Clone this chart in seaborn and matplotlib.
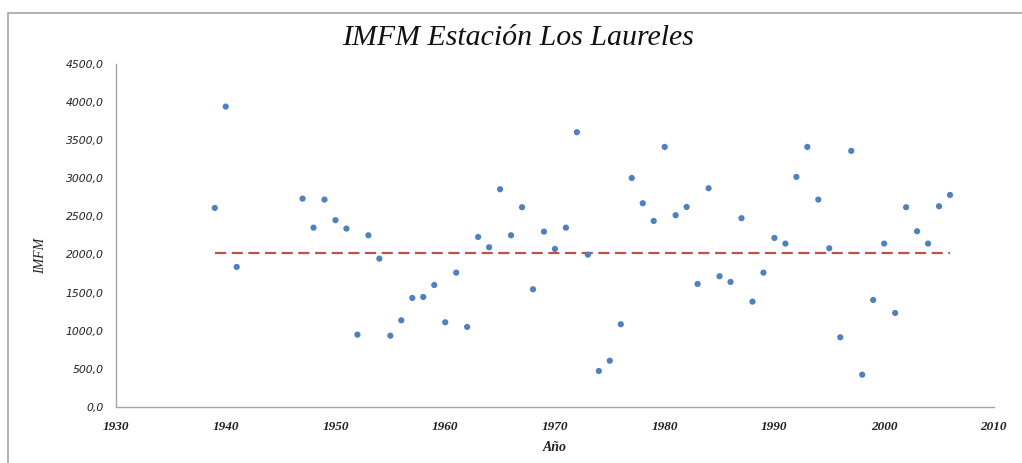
import matplotlib
matplotlib.use('Agg')
import matplotlib.pyplot as plt
import matplotlib.ticker as ticker
from matplotlib.patches import Rectangle
import seaborn as sns
import pandas as pd

# ─────────────────────────────────────────────
# DATA
# ─────────────────────────────────────────────
years = [1939, 1940, 1941, 1947, 1948, 1949, 1950, 1951, 1952, 1953,
         1954, 1955, 1956, 1957, 1958, 1959, 1960, 1961, 1962, 1963,
         1964, 1965, 1966, 1967, 1968, 1969, 1970, 1971, 1972, 1973,
         1974, 1975, 1976, 1977, 1978, 1979, 1980, 1981, 1982, 1983,
         1984, 1985, 1986, 1987, 1988, 1989, 1990, 1991, 1992, 1993,
         1994, 1995, 1996, 1997, 1998, 1999, 2000, 2001, 2002, 2003,
         2004, 2005, 2006]
imfm = [2611, 3940, 1837, 2733, 2352, 2720, 2450, 2340, 949, 2252,
        1946, 935, 1137, 1430, 1443, 1600, 1111, 1762, 1050, 2230,
        2095, 2856, 2252, 2620, 1544, 2300, 2073, 2352, 3604, 1998,
        472, 607, 1085, 3004, 2672, 2440, 3411, 2515, 2624, 1614,
        2869, 1715, 1640, 2476, 1382, 1762, 2217, 2143, 3018, 3411,
        2720, 2082, 914, 3359, 424, 1404, 2143, 1233, 2620, 2305,
        2143, 2633, 2781]
mean_years = [1939, 2006]
mean_value = [2016, 2016]

title = 'IMFM Estación Los Laureles'
x_label = 'Año'
y_label = 'IMFM'

df = pd.DataFrame({'year': years, 'imfm': imfm})

# ─────────────────────────────────────────────
# FIGURE
# ─────────────────────────────────────────────
sns.set_style('white')
fig = plt.figure(figsize=(10.22, 4.63), dpi=100)
ax = fig.add_axes([0.1135, 0.121, 0.859, 0.741])

# outer chart border (Excel style), right/bottom edges fall outside the image
fig.patches.append(Rectangle((8 / 1022, -0.05), 1.1, 1.05 - 13 / 463,
                             transform=fig.transFigure, fill=False,
                             edgecolor='#a6a6a6', linewidth=1.2))

sns.scatterplot(data=df, x='year', y='imfm', ax=ax, color='#4f81bd',
                s=20, edgecolor='none', zorder=3)
ax.plot(mean_years, mean_value, color='#c0504d', linestyle=(0, (5, 2.5)),
        linewidth=1.6, zorder=2)

ax.set_xlim(1930, 2010)
ax.set_ylim(0, 4500)
ax.xaxis.set_major_locator(ticker.MultipleLocator(10))
ax.yaxis.set_major_locator(ticker.MultipleLocator(500))
ax.yaxis.set_major_formatter(
    ticker.FuncFormatter(lambda v, p: f'{v:.1f}'.replace('.', ',')))

ax.tick_params(axis='y', length=0, pad=9)
ax.tick_params(axis='x', length=0, pad=10)
for lbl in ax.get_yticklabels():
    lbl.set_fontsize(7.8)
    lbl.set_fontstyle('italic')
    lbl.set_color('#222222')
for lbl in ax.get_xticklabels():
    lbl.set_family('Liberation Serif')
    lbl.set_fontsize(9.5)
    lbl.set_fontstyle('italic')
    lbl.set_fontweight('bold')
    lbl.set_color('#222222')

ax.set_xlabel(x_label, family='Liberation Serif', fontsize=10,
              fontstyle='italic', fontweight='bold', color='#222222')
ax.set_ylabel(y_label, family='Liberation Serif', fontsize=10,
              fontstyle='italic', color='#222222')
ax.xaxis.set_label_coords(0.5, -0.1)
ax.yaxis.set_label_coords(-0.078, 0.44)

fig.text(0.507, 0.918, title, family='Liberation Serif', fontsize=21.5,
         fontstyle='italic', ha='center', va='center', color='#111111')

for side in ['top', 'right']:
    ax.spines[side].set_visible(False)
for side in ['left', 'bottom']:
    ax.spines[side].set_color('#a6a6a6')
    ax.spines[side].set_linewidth(1.0)
ax.grid(False)

fig.savefig('out.png', dpi=100)
plt.close(fig)
